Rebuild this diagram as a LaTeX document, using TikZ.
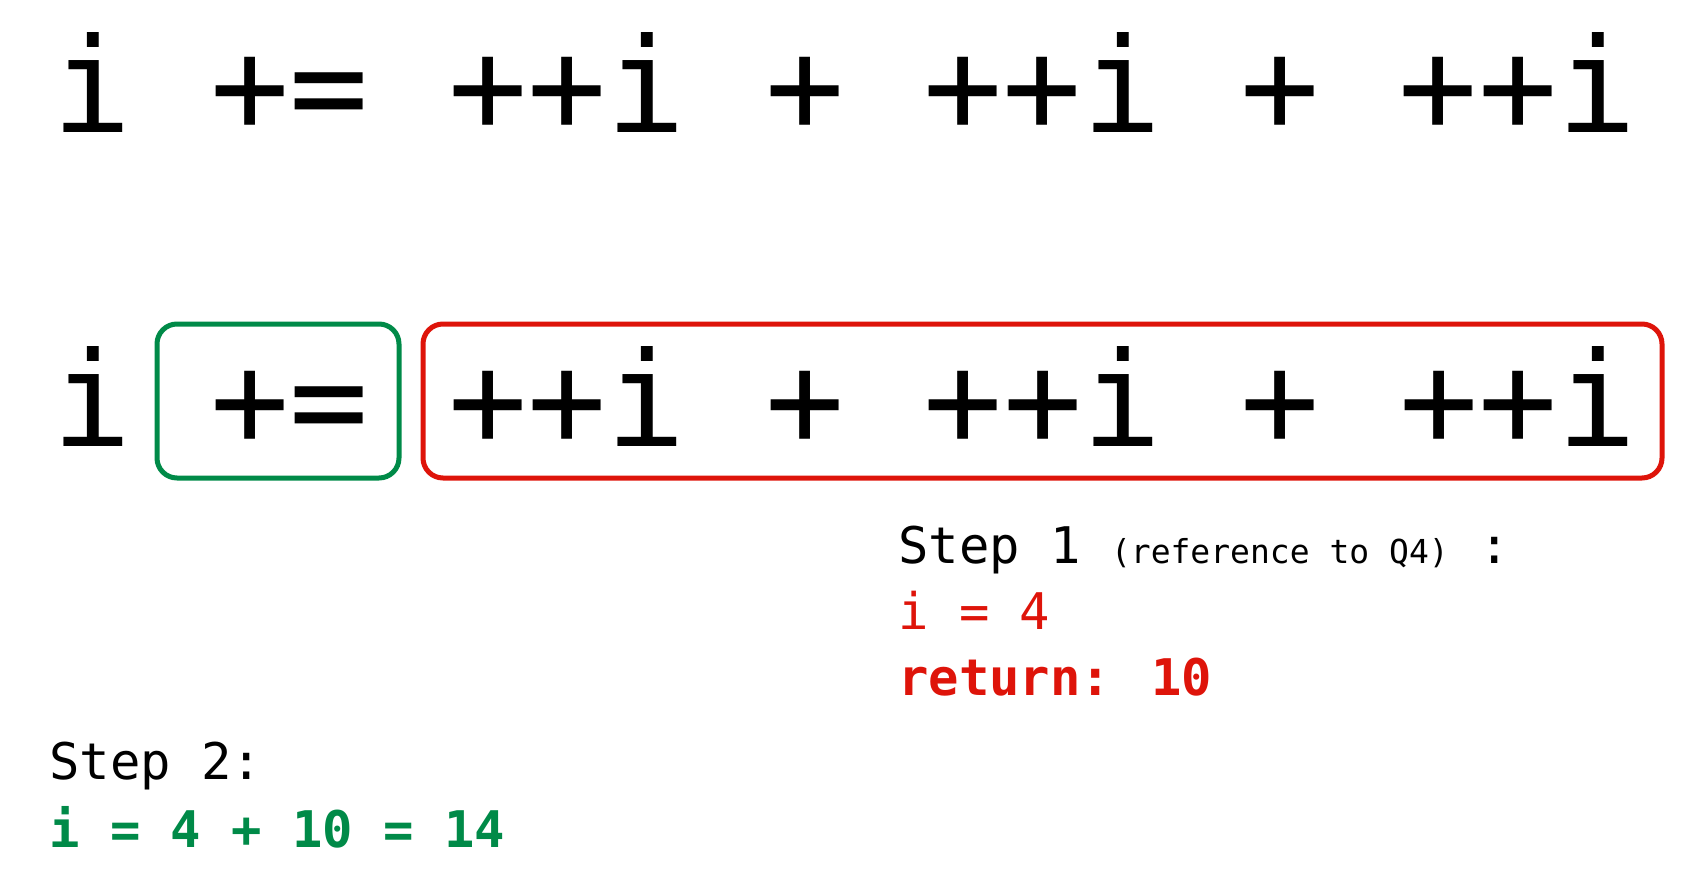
\documentclass[tikz,border=0pt]{standalone}
\usepackage{fontspec}
\usepackage{xcolor}
\newfontfamily\codefont{DejaVu Sans Mono}
\definecolor{boxred}{RGB}{222,20,10}
\definecolor{boxgreen}{RGB}{0,138,72}
\newcommand{\bigcode}{\codefont\fontsize{131.6}{140}\selectfont}
\newcommand{\midcode}{\codefont\fontsize{50.5}{66}\selectfont}
\newcommand{\smallcode}{\codefont\fontsize{33}{40}\selectfont}

\begin{document}
\begin{tikzpicture}[x=1pt, y=-1pt, code/.style={anchor=base west, inner sep=0pt}]
  \useasboundingbox (0,0) rectangle (1682,883);
  % whole expression
  \node[code] (expr) at (52,132) {\bigcode i += ++i + ++i + ++i};

  % same expression, split in parts
  \node[code] (lhs) at (52,446) {\bigcode i};
  \node[code] (op) at (210.5,446) {\bigcode +=};
  \node[code] (rhs) at (448.25,446) {\bigcode ++i + ++i + ++i};
  \draw[boxgreen, line width=5pt, rounded corners=20pt] (157,324) rectangle (399,478);
  \draw[boxred, line width=5pt, rounded corners=20pt] (423,324) rectangle (1662,478);

  % steps
  \node[code] (step1) at (898,563) {\midcode Step 1 {\smallcode(reference to Q4)} :};
  \node[code, boxred] (inc) at (898,629) {\midcode i = 4};
  \node[code, boxred] (ret) at (898,695) {\midcode\bfseries return: 10};
  \node[code] (step2) at (49,779) {\midcode Step 2:};
  \node[code, boxgreen] (sum) at (49,847) {\midcode\bfseries i = 4 + 10 = 14};
\end{tikzpicture}
\end{document}
